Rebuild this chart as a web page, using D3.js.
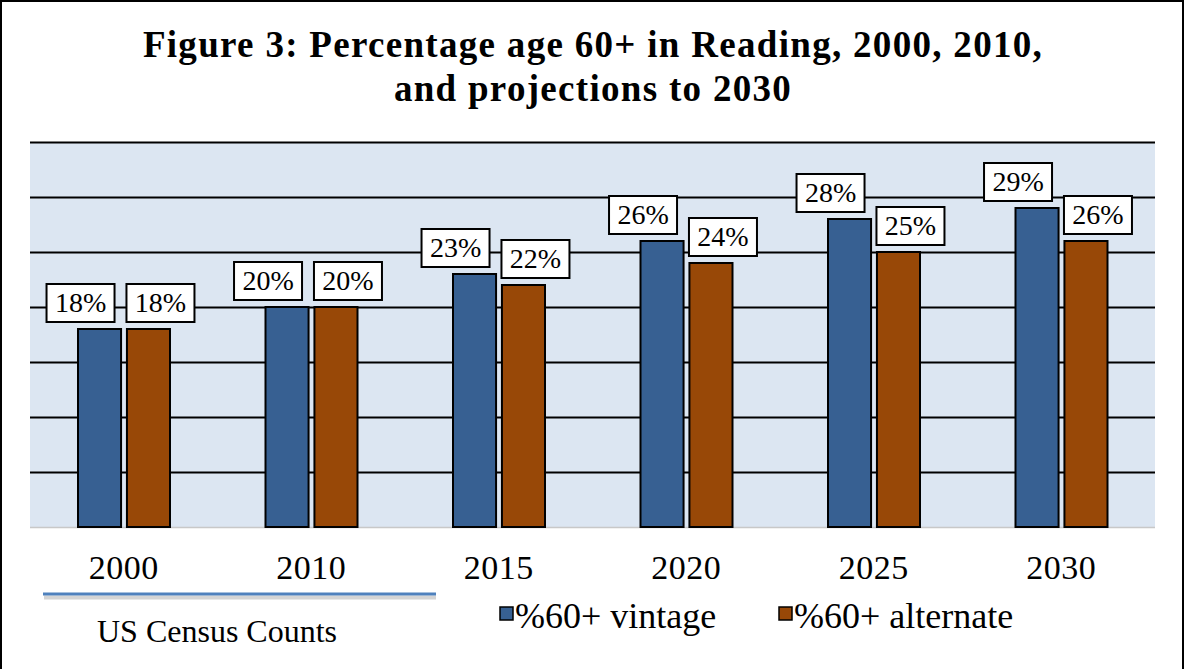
<!DOCTYPE html>
<meta charset="utf-8">
<script src="https://d3js.org/d3.v7.min.js"></script>
<style>
  body { margin: 0; background: #fff; }
  text { font-family: "Liberation Serif", "DejaVu Serif", serif; fill: #000; }
</style>
<div id="chart"></div>
<script>
// data
var years = ["2000", "2010", "2015", "2020", "2025", "2030"];
var vintage = [18, 20, 23, 26, 28, 29];
var alternate = [18, 20, 22, 24, 25, 26];
var seriesNames = ["%60+ vintage", "%60+ alternate"];
var seriesColors = ["#376092", "#984807"];
var titleLines = ["Figure 3: Percentage age 60+ in Reading, 2000, 2010,", "and projections to 2030"];

var W = 1185, H = 669;
var plot = {left: 30, right: 1155, top: 142, bottom: 527};

var svg = d3.select("#chart").append("svg")
  .attr("width", W).attr("height", H);

// outer frame
svg.append("rect")
  .attr("x", 1).attr("y", 1).attr("width", W - 3).attr("height", H + 10)
  .attr("fill", "#fff").attr("stroke", "#000").attr("stroke-width", 2);

// title
svg.append("g").selectAll("text")
  .data(titleLines).enter().append("text")
  .attr("x", 593)
  .attr("y", function(d, i) { return 57 + i * 44; })
  .attr("text-anchor", "middle")
  .style("font-size", "37px")
  .style("letter-spacing", "1.3px")
  .style("font-weight", "bold")
  .text(function(d) { return d; });

// scales
var x0 = d3.scaleBand().domain(years).range([plot.left, plot.right]);
var x1 = d3.scaleBand().domain([0, 1]).range([48, 140]).paddingInner(0.12);
var y = d3.scaleLinear().domain([0, 35]).range([plot.bottom, plot.top]);

// plot background
svg.append("rect")
  .attr("x", plot.left).attr("y", plot.top)
  .attr("width", plot.right - plot.left).attr("height", plot.bottom - plot.top)
  .attr("fill", "#dce6f2");

// gridlines
var grid = svg.append("g")
  .attr("transform", "translate(" + plot.left + ",0)")
  .call(d3.axisLeft(y).tickValues(d3.range(5, 36, 5)).tickSize(-(plot.right - plot.left)).tickFormat(""));
grid.select(".domain").remove();
grid.selectAll("line").attr("stroke", "#000").attr("stroke-width", 2);

// bottom edge
svg.append("line")
  .attr("x1", plot.left).attr("x2", plot.right)
  .attr("y1", plot.bottom + 0.5).attr("y2", plot.bottom + 0.5)
  .attr("stroke", "#c8c8c8").attr("stroke-width", 1.5);

// bars
var rows = years.map(function(yr, i) { return {year: yr, vals: [vintage[i], alternate[i]]}; });
var groups = svg.append("g").selectAll("g")
  .data(rows).enter().append("g")
  .attr("transform", function(d) { return "translate(" + x0(d.year) + ",0)"; });

groups.selectAll("rect")
  .data(function(d) { return d.vals.map(function(v, k) { return {k: k, v: v}; }); })
  .enter().append("rect")
  .attr("x", function(d) { return x1(d.k); })
  .attr("y", function(d) { return y(d.v); })
  .attr("width", x1.bandwidth())
  .attr("height", function(d) { return y(0) - y(d.v); })
  .attr("fill", function(d) { return seriesColors[d.k]; })
  .attr("stroke", "#000").attr("stroke-width", 2);

// value labels in boxes
var shift = [-19, 12];
var lab = groups.selectAll(".lab")
  .data(function(d) { return d.vals.map(function(v, k) { return {k: k, v: v}; }); })
  .enter().append("g")
  .attr("class", "lab")
  .attr("transform", function(d) {
    return "translate(" + (x1(d.k) + x1.bandwidth() / 2 + shift[d.k]) + "," + (y(d.v) - 7) + ")";
  });
lab.append("rect")
  .attr("x", -34).attr("y", -38).attr("width", 68).attr("height", 38)
  .attr("fill", "#fff").attr("stroke", "#000").attr("stroke-width", 2);
lab.append("text")
  .attr("y", -10)
  .attr("text-anchor", "middle")
  .style("font-size", "28px")
  .text(function(d) { return d.v + "%"; });

// category labels
svg.append("g").selectAll("text")
  .data(years).enter().append("text")
  .attr("x", function(d) { return x0(d) + x0.bandwidth() / 2; })
  .attr("y", 579)
  .attr("text-anchor", "middle")
  .style("font-size", "34px")
  .style("letter-spacing", "0.5px")
  .text(function(d) { return d; });

// census bracket
svg.append("line")
  .attr("x1", 44).attr("x2", 436).attr("y1", 597.5).attr("y2", 597.5)
  .attr("stroke", "#d4d4d4").attr("stroke-width", 4);
svg.append("line")
  .attr("x1", 43).attr("x2", 436).attr("y1", 594).attr("y2", 594)
  .attr("stroke", "#4f81bd").attr("stroke-width", 3);
svg.append("text")
  .attr("x", 97).attr("y", 642)
  .style("font-size", "32px")
  .text("US Census Counts");

// legend
var legX = [500, 779];
var leg = svg.append("g").selectAll("g")
  .data(seriesNames).enter().append("g")
  .attr("transform", function(d, i) { return "translate(" + legX[i] + ",607)"; });
leg.append("rect")
  .attr("width", 13).attr("height", 13)
  .attr("fill", function(d, i) { return seriesColors[i]; })
  .attr("stroke", "#000").attr("stroke-width", 1.5);
leg.append("text")
  .attr("x", 15).attr("y", 21)
  .style("font-size", "36px")
  .text(function(d) { return d; });
</script>
